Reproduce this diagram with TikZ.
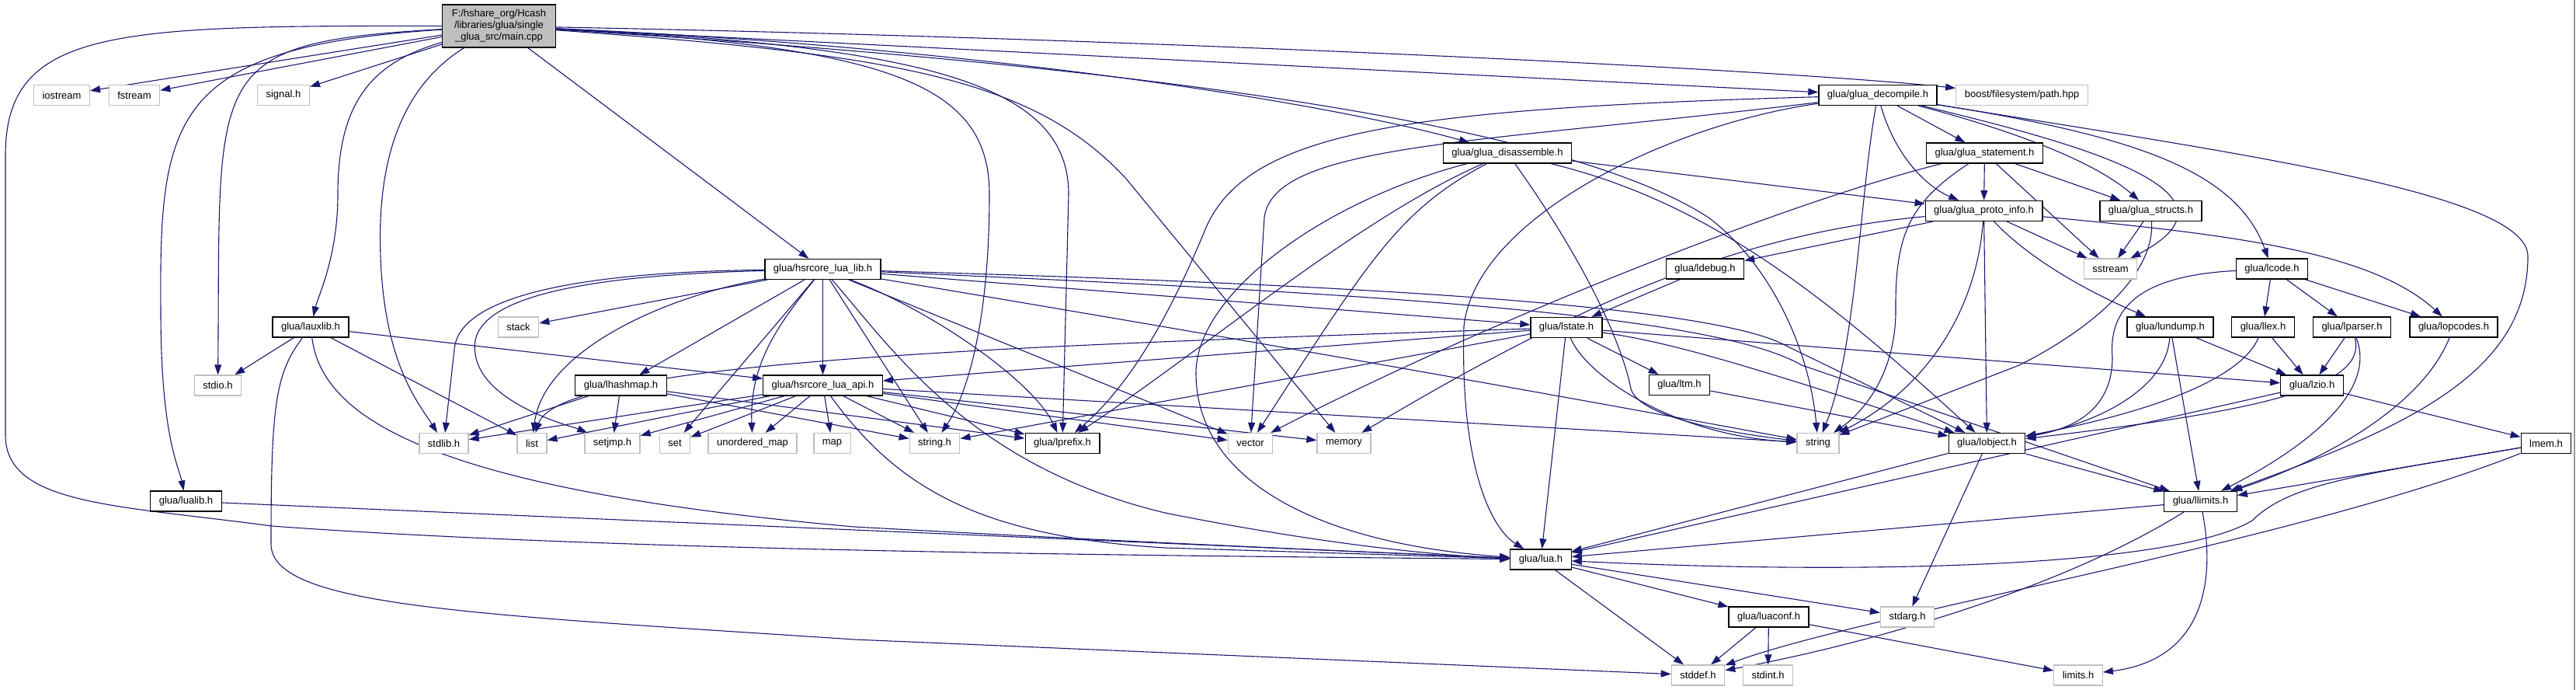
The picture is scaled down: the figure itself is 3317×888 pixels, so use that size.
\documentclass[tikz,border=0pt]{standalone}
\usepackage{fontspec}
\setmainfont{Liberation Sans}
\usepackage{xcolor}
\usepackage{tikz}
\usetikzlibrary{arrows.meta, backgrounds}
\definecolor{edgeblue}{HTML}{191970}
\definecolor{sysgray}{HTML}{BFBFBF}
\definecolor{rootgray}{HTML}{BFBFBF}
\begin{document}
\begin{tikzpicture}[
    x=1pt, y=-1pt,
    every node/.style={font=\fontsize{13}{15}\selectfont},
    hdr/.style={rectangle, draw=black, line width=1.3pt, fill=white, minimum height=26pt, inner xsep=11pt, inner ysep=0pt},
    sys/.style={hdr, draw=sysgray},
    root/.style={hdr, fill=rootgray, align=center, minimum height=55pt, inner xsep=12pt},
    inc/.style={draw=edgeblue, line width=1.1pt, -{Triangle[length=13pt, width=9pt]}}
]
\useasboundingbox (0,0) rectangle (3317,888);
\node[root] (main) at (642.5,33.5) {F:/hshare\_org/Hcash\\/libraries/glua/single\\\_glua\_src/main.cpp};
\node[sys] (iostream) at (79.5,122.5) {iostream};
\node[sys] (fstream) at (173,122.5) {fstream};
\node[sys] (signalh) at (365,122.5) {signal.h};
\node[hdr] (decompile) at (2418,122.5) {glua/glua\_decompile.h};
\node[sys] (boost) at (2603.5,122.5) {boost/filesystem/path.hpp};
\node[hdr] (disasm) at (1941,197) {glua/glua\_disassemble.h};
\node[hdr] (statement) at (2555.5,197) {glua/glua\_statement.h};
\node[hdr] (protoinfo) at (2554.5,271.5) {glua/glua\_proto\_info.h};
\node[hdr] (structs) at (2769.5,271.5) {glua/glua\_structs.h};
\node[hdr] (corelib) at (1059.5,346.5) {glua/hsrcore\_lua\_lib.h};
\node[hdr] (ldebug) at (2195.5,346) {glua/ldebug.h};
\node[sys] (sstream) at (2717.5,346) {sstream};
\node[hdr] (lcode) at (2925.5,346) {glua/lcode.h};
\node[sys] (stack) at (667.5,421) {stack};
\node[hdr] (lauxlib) at (400,421) {glua/lauxlib.h};
\node[hdr] (lstate) at (2017,421.5) {glua/lstate.h};
\node[hdr] (lundump) at (2794.5,421) {glua/lundump.h};
\node[hdr] (llex) at (2914,421) {glua/llex.h};
\node[hdr] (lparser) at (3028.5,421) {glua/lparser.h};
\node[hdr] (lopcodes) at (3159.5,421) {glua/lopcodes.h};
\node[sys] (stdio) at (280.5,496) {stdio.h};
\node[hdr] (lhashmap) at (799.5,496) {glua/lhashmap.h};
\node[hdr] (coreapi) at (1059.5,496) {glua/hsrcore\_lua\_api.h};
\node[hdr] (ltm) at (2162.5,495.5) {glua/ltm.h};
\node[hdr] (lzio) at (2977,496) {glua/lzio.h};
\node[sys] (stdlib) at (571.5,570.5) {stdlib.h};
\node[sys] (list) at (685,570.5) {list};
\node[sys] (setjmp) at (788.5,570.5) {setjmp.h};
\node[sys] (set) at (869,570.5) {set};
\node[sys] (umap) at (969,570.5) {unordered\_map};
\node[sys] (map) at (1071.5,570.5) {map};
\node[sys] (stringh) at (1203.5,570.5) {string.h};
\node[hdr] (lprefix) at (1368,570.5) {glua/lprefix.h};
\node[sys] (vector) at (1610,570.5) {vector};
\node[sys] (memory) at (1730.5,570.5) {memory};
\node[sys] (string) at (2341,570.5) {string};
\node[hdr] (lobject) at (2558.5,570.5) {glua/lobject.h};
\node[hdr] (lmem) at (3278.5,570.5) {lmem.h};
\node[hdr] (lualib) at (239.5,645) {glua/lualib.h};
\node[hdr] (llimits) at (2833.5,645.5) {glua/llimits.h};
\node[hdr] (lua) at (1984,720) {glua/lua.h};
\node[hdr] (luaconf) at (2277.5,794) {glua/luaconf.h};
\node[sys] (stdarg) at (2456,794) {stdarg.h};
\node[sys] (stddef) at (2186.5,869) {stddef.h};
\node[sys] (stdint) at (2276.5,869) {stdint.h};
\node[sys] (limits) at (2676,869) {limits.h};
\draw[sysgray!80!black, line width=2pt] (3315,0) -- (3315,888);
\begin{scope}[on background layer]
\draw[inc] (main) -- (iostream);
\draw[inc] (main) -- (fstream);
\draw[inc] (main) -- (signalh);
\draw[inc] (main) .. controls (260,55) and (284,90) .. (stdio);
\draw[inc] (main) .. controls (220,60) and (205,150) .. (207,400) .. controls (207,560) and (230,600) .. (lualib);
\draw[inc] (main) .. controls (150,33) and (7,35) .. (7,200) -- (7,560) .. controls (7,650) and (150,650) .. (350,677) .. controls (800,710) and (1500,715) .. (lua);
\draw[inc] (main) .. controls (480,80) and (435,130) .. (435,250) .. controls (435,330) and (410,380) .. (lauxlib);
\draw[inc] (main) .. controls (520,110) and (485,200) .. (490,330) .. controls (495,470) and (540,520) .. (stdlib);
\draw[inc] (main) -- (corelib);
\draw[inc] (main) .. controls (1250,60) and (1700,130) .. (disasm);
\draw[inc] (main) -- (decompile);
\draw[inc] (main) .. controls (1500,50) and (2300,90) .. (boost);
\draw[inc] (main) .. controls (1150,60) and (1274,110) .. (1274,250) .. controls (1274,400) and (1250,500) .. (stringh);
\draw[inc] (main) .. controls (1200,60) and (1376,110) .. (1376,250) -- (lprefix);
\draw[inc] (main) .. controls (1150,70) and (1330,100) .. (1450,230) -- (memory);
\draw[inc] (main) .. controls (1400,80) and (2000,150) .. (2200,280) .. controls (2280,340) and (2330,450) .. (string);
\draw[inc] (corelib) -- (stack);
\draw[inc] (corelib) .. controls (750,350) and (590,380) .. (585,450) -- (stdlib);
\draw[inc] (corelib) .. controls (720,355) and (600,390) .. (612,455) .. controls (620,520) and (740,550) .. (setjmp);
\draw[inc] (corelib) .. controls (860,380) and (700,450) .. (list);
\draw[inc] (corelib) -- (lhashmap);
\draw[inc] (corelib) -- (set);
\draw[inc] (corelib) .. controls (1000,420) and (965,470) .. (umap);
\draw[inc] (corelib) -- (coreapi);
\draw[inc] (corelib) -- (stringh);
\draw[inc] (corelib) .. controls (1200,400) and (1330,490) .. (lprefix);
\draw[inc] (corelib) -- (vector);
\draw[inc] (corelib) .. controls (1150,450) and (1250,600) .. (1500,660) .. controls (1700,700) and (1850,715) .. (lua);
\draw[inc] (corelib) -- (lstate);
\draw[inc] (corelib) .. controls (1700,365) and (2200,390) .. (2300,445) -- (lobject);
\draw[inc] (corelib) .. controls (1700,375) and (2200,400) .. (2320,470) -- (llimits);
\draw[inc] (corelib) .. controls (1800,470) and (2200,545) .. (string);
\draw[inc] (coreapi) -- (stdlib);
\draw[inc] (coreapi) -- (list);
\draw[inc] (coreapi) -- (setjmp);
\draw[inc] (coreapi) -- (set);
\draw[inc] (coreapi) -- (umap);
\draw[inc] (coreapi) -- (map);
\draw[inc] (coreapi) -- (stringh);
\draw[inc] (coreapi) -- (lprefix);
\draw[inc] (coreapi) -- (vector);
\draw[inc] (coreapi) -- (memory);
\draw[inc] (coreapi) -- (string);
\draw[inc] (coreapi) .. controls (1150,620) and (1250,690) .. (1500,705) -- (lua);
\draw[inc] (lauxlib) -- (stdio);
\draw[inc] (lauxlib) -- (list);
\draw[inc] (lauxlib) -- (coreapi);
\draw[inc] (lauxlib) .. controls (415,540) and (560,630) .. (1100,678) .. controls (1500,700) and (1800,712) .. (lua);
\draw[inc] (lauxlib) .. controls (355,480) and (349,520) .. (349,700) .. controls (349,780) and (600,790) .. (1100,823) -- (stddef);
\draw[inc] (lualib) -- (lua);
\draw[inc] (lhashmap) -- (stdlib);
\draw[inc] (lhashmap) -- (setjmp);
\draw[inc] (lhashmap) -- (stringh);
\draw[inc] (lhashmap) -- (lprefix);
\draw[inc] (lstate) .. controls (1300,445) and (720,465) .. (list);
\draw[inc] (lstate) -- (coreapi);
\draw[inc] (lstate) -- (stringh);
\draw[inc] (lstate) -- (ltm);
\draw[inc] (lstate) -- (lua);
\draw[inc] (lstate) .. controls (2150,440) and (2250,470) .. (lobject);
\draw[inc] (lstate) .. controls (2040,480) and (2150,560) .. (string);
\draw[inc] (lstate) -- (lzio);
\draw[inc] (ltm) -- (lobject);
\draw[inc] (ldebug) -- (lstate);
\draw[inc] (disasm) -- (protoinfo);
\draw[inc] (disasm) .. controls (2200,260) and (2350,380) .. (lobject);
\draw[inc] (disasm) .. controls (2050,350) and (2090,450) .. (2100,500) .. controls (2110,540) and (2250,560) .. (string);
\draw[inc] (disasm) .. controls (1700,260) and (1540,380) .. (1540,480) .. controls (1540,620) and (1700,700) .. (lua);
\draw[inc] (disasm) .. controls (1800,270) and (1760,340) .. (vector);
\draw[inc] (disasm) .. controls (1750,280) and (1550,450) .. (lprefix);
\draw[inc] (decompile) -- (statement);
\draw[inc] (decompile) .. controls (2440,200) and (2480,240) .. (protoinfo);
\draw[inc] (decompile) .. controls (2600,170) and (2700,210) .. (structs);
\draw[inc] (decompile) .. controls (2700,190) and (2900,250) .. (sstream);
\draw[inc] (decompile) .. controls (2750,175) and (2880,220) .. (lcode);
\draw[inc] (decompile) .. controls (2900,200) and (3255,250) .. (3255,330) .. controls (3255,480) and (3100,550) .. (llimits);
\draw[inc] (decompile) .. controls (2395,250) and (2390,450) .. (string);
\draw[inc] (decompile) .. controls (1800,140) and (1600,170) .. (1550,300) .. controls (1500,420) and (1450,500) .. (lprefix);
\draw[inc] (decompile) .. controls (1900,185) and (1640,185) .. (1628,280) -- (vector);
\draw[inc] (decompile) .. controls (2150,160) and (1900,280) .. (1885,420) .. controls (1880,600) and (1920,680) .. (lua);
\draw[inc] (statement) -- (protoinfo);
\draw[inc] (statement) -- (structs);
\draw[inc] (statement) -- (sstream);
\draw[inc] (statement) .. controls (2460,260) and (2440,300) .. (2441,400) .. controls (2441,480) and (2400,530) .. (string);
\draw[inc] (statement) .. controls (2300,260) and (1900,420) .. (vector);
\draw[inc] (protoinfo) -- (ldebug);
\draw[inc] (protoinfo) .. controls (2250,300) and (2050,380) .. (memory);
\draw[inc] (protoinfo) -- (sstream);
\draw[inc] (protoinfo) .. controls (2620,340) and (2700,380) .. (lundump);
\draw[inc] (protoinfo) .. controls (2850,300) and (3050,320) .. (lopcodes);
\draw[inc] (protoinfo) .. controls (2545,400) and (2480,500) .. (string);
\draw[inc] (protoinfo) -- (lobject);
\draw[inc] (structs) -- (sstream);
\draw[inc] (structs) .. controls (2775,350) and (2700,420) .. (2600,470) -- (string);
\draw[inc] (lcode) .. controls (2750,355) and (2715,400) .. (2720,460) .. controls (2720,520) and (2680,550) .. (lobject);
\draw[inc] (lcode) -- (llex);
\draw[inc] (lcode) -- (lparser);
\draw[inc] (lcode) -- (lopcodes);
\draw[inc] (lundump) -- (lzio);
\draw[inc] (lundump) .. controls (2790,500) and (2700,545) .. (lobject);
\draw[inc] (lundump) -- (llimits);
\draw[inc] (llex) -- (lzio);
\draw[inc] (llex) .. controls (2880,500) and (2720,540) .. (lobject);
\draw[inc] (lparser) -- (lzio);
\draw[inc] (lparser) .. controls (3050,500) and (2900,530) .. (lobject);
\draw[inc] (lparser) .. controls (3060,500) and (2980,570) .. (llimits);
\draw[inc] (lopcodes) .. controls (3120,520) and (3000,590) .. (llimits);
\draw[inc] (lzio) -- (lmem);
\draw[inc] (lzio) -- (lua);
\draw[inc] (lmem) -- (llimits);
\draw[inc] (lmem) .. controls (3050,610) and (2950,620) .. (2900,670) .. controls (2800,730) and (2400,740) .. (lua);
\draw[inc] (lmem) .. controls (2950,700) and (2400,790) .. (stddef);
\draw[inc] (llimits) -- (lua);
\draw[inc] (llimits) .. controls (2650,760) and (2400,830) .. (stddef);
\draw[inc] (llimits) .. controls (2855,760) and (2830,850) .. (limits);
\draw[inc] (lobject) -- (lua);
\draw[inc] (lobject) -- (llimits);
\draw[inc] (lobject) -- (stdarg);
\draw[inc] (lua) -- (luaconf);
\draw[inc] (lua) -- (stdarg);
\draw[inc] (lua) -- (stddef);
\draw[inc] (luaconf) -- (stddef);
\draw[inc] (luaconf) -- (stdint);
\draw[inc] (luaconf) -- (limits);
\end{scope}
\end{tikzpicture}
\end{document}
